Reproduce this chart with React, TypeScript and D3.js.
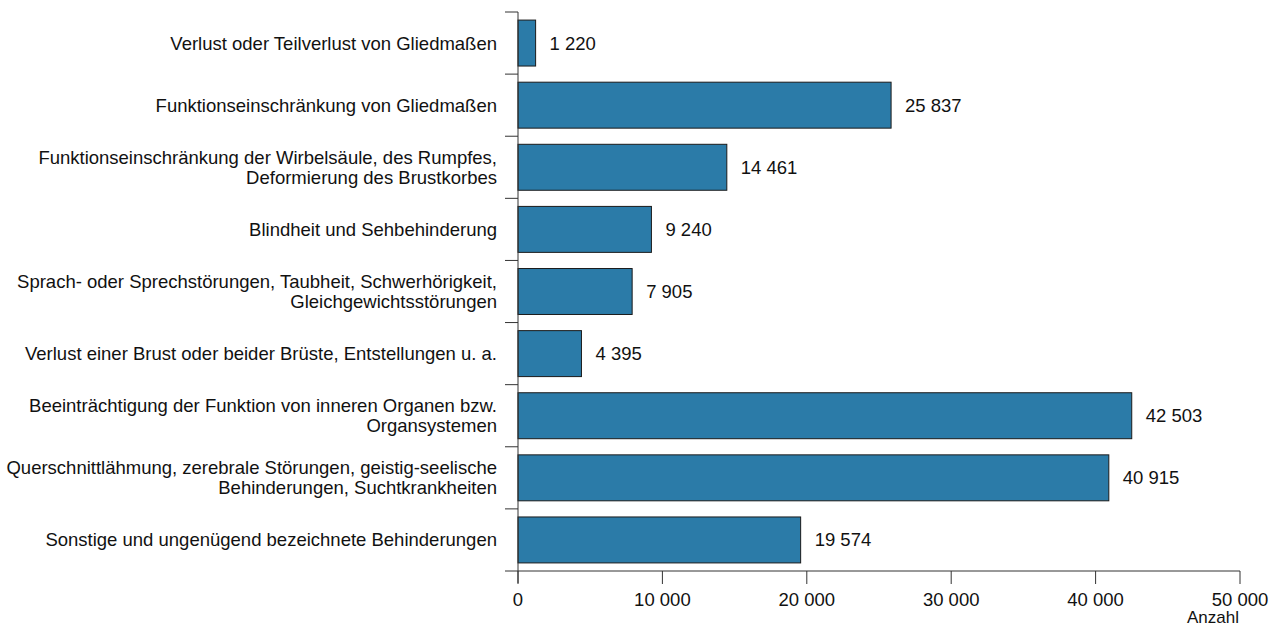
import React, { useEffect, useRef } from 'react';
import * as d3 from 'd3';

const categories: string[][] = [
  ['Verlust oder Teilverlust von Gliedmaßen'],
  ['Funktionseinschränkung von Gliedmaßen'],
  ['Funktionseinschränkung der Wirbelsäule, des Rumpfes,', 'Deformierung des Brustkorbes'],
  ['Blindheit und Sehbehinderung'],
  ['Sprach- oder Sprechstörungen, Taubheit, Schwerhörigkeit,', 'Gleichgewichtsstörungen'],
  ['Verlust einer Brust oder beider Brüste, Entstellungen u. a.'],
  ['Beeinträchtigung der Funktion von inneren Organen bzw.', 'Organsystemen'],
  ['Querschnittlähmung, zerebrale Störungen, geistig-seelische', 'Behinderungen, Suchtkrankheiten'],
  ['Sonstige und ungenügend bezeichnete Behinderungen'],
];
const values = [1220, 25837, 14461, 9240, 7905, 4395, 42503, 40915, 19574];
const xTicks = [0, 10000, 20000, 30000, 40000, 50000];

const fmt = (v: number) => d3.format(',')(v).replace(/,/g, ' ');

const FONT = "'Liberation Sans', Arial, sans-serif";
const SIZE = '18.5px';

const App = () => {
  const ref = useRef<SVGSVGElement>(null);

  useEffect(() => {
    const svg = d3.select(ref.current);
    svg.selectAll('*').remove();

    const idx = values.map((_, i) => i);
    const x = d3.scaleLinear().domain([0, 50000]).range([518, 1240]);
    const y = d3.scaleBand<number>().domain(idx).range([12, 571]).padding(0);
    const bw = y.bandwidth();

    const txt = (sel: any) =>
      sel.attr('font-family', FONT).attr('font-size', SIZE).attr('fill', '#111');

    // bars
    svg.append('g')
      .selectAll('rect')
      .data(idx)
      .enter().append('rect')
      .attr('x', x(0))
      .attr('y', (i) => y(i)! + bw * 0.13)
      .attr('width', (i) => x(values[i]) - x(0))
      .attr('height', bw * 0.74)
      .attr('fill', '#2b7ba8')
      .attr('stroke', '#1b1b1b')
      .attr('stroke-width', 1);

    // value labels
    svg.append('g')
      .selectAll('text')
      .data(idx)
      .enter().append('text')
      .attr('x', (i) => x(values[i]) + 14)
      .attr('y', (i) => y(i)! + bw / 2 + 6.5)
      .text((i) => fmt(values[i]))
      .call(txt);

    // y axis
    const ya = svg.append('g').attr('stroke', '#333').attr('stroke-width', 1);
    ya.append('line').attr('x1', 518).attr('x2', 518).attr('y1', 12).attr('y2', 583);
    const bounds = [...idx.map((i) => y(i)!), 571];
    ya.selectAll('line.t')
      .data(bounds)
      .enter().append('line')
      .attr('class', 't')
      .attr('x1', 505).attr('x2', 518)
      .attr('y1', (d) => d).attr('y2', (d) => d);

    // category labels
    const labels = svg.append('g');
    idx.forEach((i) => {
      const lines = categories[i];
      const c = y(i)! + bw / 2;
      lines.forEach((ln, k) => {
        labels.append('text')
          .attr('x', 497)
          .attr('y', c + 6.5 + (k - (lines.length - 1) / 2) * 20)
          .attr('text-anchor', 'end')
          .text(ln)
          .call(txt);
      });
    });

    // x axis
    const xa = svg.append('g').attr('stroke', '#333').attr('stroke-width', 1);
    xa.append('line').attr('x1', x(0)).attr('x2', x(50000)).attr('y1', 571).attr('y2', 571);
    xa.selectAll('line.t')
      .data(xTicks)
      .enter().append('line')
      .attr('class', 't')
      .attr('x1', (d) => x(d)).attr('x2', (d) => x(d))
      .attr('y1', 571).attr('y2', 584);
    svg.append('g')
      .selectAll('text')
      .data(xTicks)
      .enter().append('text')
      .attr('x', (d) => x(d))
      .attr('y', 606)
      .attr('text-anchor', 'middle')
      .text((d) => fmt(d))
      .call(txt);
    svg.append('text')
      .attr('x', 1239)
      .attr('y', 623)
      .attr('text-anchor', 'end')
      .text('Anzahl')
      .call(txt)
      .attr('font-size', '17px');
  }, []);

  return (
    <svg
      ref={ref}
      width={1279}
      height={628}
      style={{ position: 'absolute', left: 0, top: 0, background: '#fff' }}
    />
  );
};

export default App;
